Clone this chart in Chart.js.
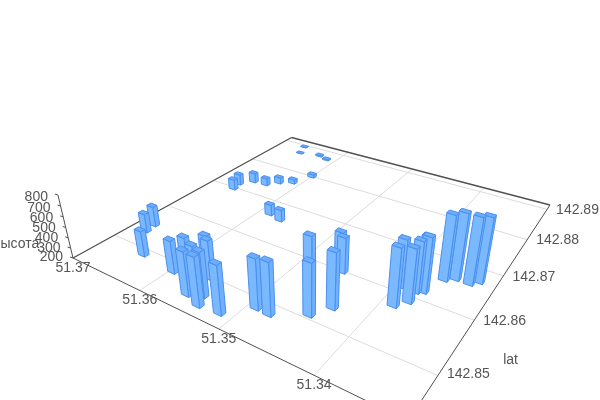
<!DOCTYPE html>
<html>
<head>
<meta charset="utf-8">
<style>
  html, body { margin: 0; padding: 0; background: #fff; }
  canvas { display: block; }
</style>
<script src="https://cdn.jsdelivr.net/npm/chart.js@4"></script>
</head>
<body>
<canvas id="chart" width="600" height="400"></canvas>
<script>
const lon = [51.3644, 51.3678, 51.3680, 51.3596, 51.3586, 51.3564, 51.3558, 51.3538, 51.3544, 51.3561, 51.3558, 51.3514, 51.3491, 51.3476,
    51.3467, 51.3445, 51.3460, 51.3433, 51.3455, 51.3388, 51.3396, 51.3379, 51.3380, 51.3376, 51.3374, 51.3365, 51.3356, 51.3342,
    51.3335, 51.3664, 51.3667, 51.3655, 51.3637, 51.3626, 51.3611, 51.3600, 51.3586, 51.3568, 51.3657, 51.3664, 51.3628, 51.3613];
const lat = [142.8489, 142.8532, 142.8550, 142.8483, 142.8494, 142.8480, 142.8459, 142.8451, 142.8467, 142.8499, 142.8498, 142.8454, 142.8484, 142.8483,
    142.8548, 142.8507, 142.8603, 142.8532, 142.8599, 142.8574, 142.8612, 142.8590, 142.8612, 142.8620, 142.8617, 142.8653, 142.8662, 142.8662,
    142.8672, 142.8697, 142.8715, 142.8734, 142.8736, 142.8753, 142.8765, 142.8800, 142.8664, 142.8658, 142.8868, 142.8894, 142.8876, 142.8869];
const height = [449, 389, 403, 513, 532, 569, 614, 658, 622, 601, 572, 652, 664, 685,
    698, 684, 561, 715, 541, 735, 648, 696, 678, 697, 713, 811, 821, 824,
    809, 312, 314, 304, 279, 268, 245, 235, 313, 321, 203, 204, 215, 214];

const lonTicks = [51.37, 51.36, 51.35, 51.34];
const latTicks = [142.85, 142.86, 142.87, 142.88, 142.89];
const heightTicks = [200, 300, 400, 500, 600, 700, 800];
const latTitle = 'lat';
const heightTitle = 'высота';

// floor and height ranges of the 3d box
const lonMax = 51.37, lonRange = 0.0382;
const latMin = 142.8433, latRange = 0.0483;
const heightMin = 200, heightRange = 600;
const barHalfLon = 0.00047, barHalfLat = 0.00038;

// camera: homography of the floor plus the vertical vanishing point
const a = 213.25, b = 352.56, c = 73, d = 37.37, e = -57.26, f = 258, g = -0.2984, h = 0.4599;
const k = -0.0597, vanishX = 310, vanishY = 1250;

function project(pLon, pLat, pHeight) {
    const u = (lonMax - pLon) / lonRange;
    const v = (pLat - latMin) / latRange;
    const w = (pHeight - heightMin) / heightRange * k;
    const div = g * u + h * v + 1 + w;
    return {
        x: (a * u + b * v + c + w * vanishX) / div,
        y: (d * u + e * v + f + w * vanishY) / div
    };
}

const faceColor = '#7ab8ff';
const topColor = '#6dadfb';
const sideColor = '#70b0fd';
const edgeColor = '#4a8fee';
const gridColor = '#dcdcdc';
const axisColor = '#505050';
const textColor = '#555555';

const polygon = (points, fillColor) => ({
    data: points.concat([points[0]]),
    backgroundColor: fillColor,
    borderColor: edgeColor,
    borderWidth: 1,
    borderDash: [100, 0], // keeps Chart.js off its fast path, which merges points sharing an x pixel
    fill: 'shape',
    showLine: true,
    pointRadius: 0,
    tension: 0
});

const line = (from, to, color, width) => ({
    data: [from, to],
    borderColor: color,
    borderWidth: width,
    showLine: true,
    pointRadius: 0,
    fill: false
});

// first dataset is painted last, so the nearest bar goes first
const order = lon.map((_, i) => i).sort((p, q) => {
    return project(lon[q], lat[q], heightMin).y - project(lon[p], lat[p], heightMin).y;
});

const datasets = [];
order.forEach(i => {
    const x0 = lon[i] - barHalfLon, x1 = lon[i] + barHalfLon;
    const y0 = lat[i] - barHalfLat, y1 = lat[i] + barHalfLat;
    const top = height[i];
    datasets.push(polygon([project(x0, y0, top), project(x1, y0, top), project(x1, y1, top), project(x0, y1, top)], topColor));
    datasets.push(polygon([project(x0, y0, heightMin), project(x1, y0, heightMin), project(x1, y0, top), project(x0, y0, top)], faceColor));
    datasets.push(polygon([project(x0, y0, heightMin), project(x0, y1, heightMin), project(x0, y1, top), project(x0, y0, top)], sideColor));
});

const lonLow = lonMax - lonRange, latHigh = latMin + latRange;

// box edges and the height axis
datasets.push(line(project(lonMax, latMin, heightMin), project(lonLow, latMin, heightMin), axisColor, 1));
datasets.push(line(project(lonLow, latMin, heightMin), project(lonLow, latHigh, heightMin), axisColor, 1));
datasets.push(line(project(lonMax, latMin, heightMin), project(lonMax, latHigh, heightMin), axisColor, 1.3));
datasets.push(line(project(lonMax, latHigh, heightMin), project(lonLow, latHigh, heightMin), axisColor, 1.3));
datasets.push(line(project(lonMax, latMin, heightMin), project(lonMax, latMin, heightMin + heightRange), axisColor, 1));
heightTicks.forEach(t => {
    const p = project(lonMax, latMin, t);
    datasets.push(line(p, { x: p.x - 3, y: p.y - 1 }, axisColor, 1));
});

// floor grid
lonTicks.slice(1).forEach(t => {
    datasets.push(line(project(t, latMin, heightMin), project(t, latHigh, heightMin), gridColor, 1));
});
latTicks.forEach(t => {
    datasets.push(line(project(lonMax, t, heightMin), project(lonLow, t, heightMin), gridColor, 1));
});

const axisText = {
    id: 'axisText',
    afterDraw(chart) {
        const ctx = chart.ctx;
        const sx = chart.scales.x, sy = chart.scales.y;
        const put = (text, p, dx, dy, align) => {
            ctx.textAlign = align;
            ctx.fillText(text, sx.getPixelForValue(p.x) + dx, sy.getPixelForValue(p.y) + dy);
        };
        ctx.save();
        ctx.font = '14px "Liberation Sans", Arial, sans-serif';
        ctx.fillStyle = textColor;
        ctx.textBaseline = 'middle';
        lonTicks.forEach(t => put(t.toFixed(2), project(t, latMin, heightMin), 0, 10, 'center'));
        latTicks.forEach(t => put(t.toFixed(2), project(lonLow, t, heightMin), 9, t < 142.855 ? -1 : 1, 'left'));
        heightTicks.forEach(t => put(String(t), project(lonMax, latMin, t), -10, 1 + (t - 500) / 200, 'right'));
        put(heightTitle, project(lonMax, latMin, 400), -29, 6, 'right');
        put(latTitle, project(lonLow, 142.855, heightMin), 46, 14, 'left');
        ctx.restore();
    }
};

new Chart(document.getElementById('chart'), {
    type: 'scatter',
    data: { datasets: datasets },
    options: {
        responsive: false,
        animation: false,
        events: [],
        layout: { padding: 0 },
        plugins: { legend: { display: false }, tooltip: { enabled: false } },
        scales: {
            x: { type: 'linear', display: false, min: 0, max: 600 },
            y: { type: 'linear', display: false, min: 0, max: 400, reverse: true }
        }
    },
    plugins: [axisText]
});
</script>
</body>
</html>
